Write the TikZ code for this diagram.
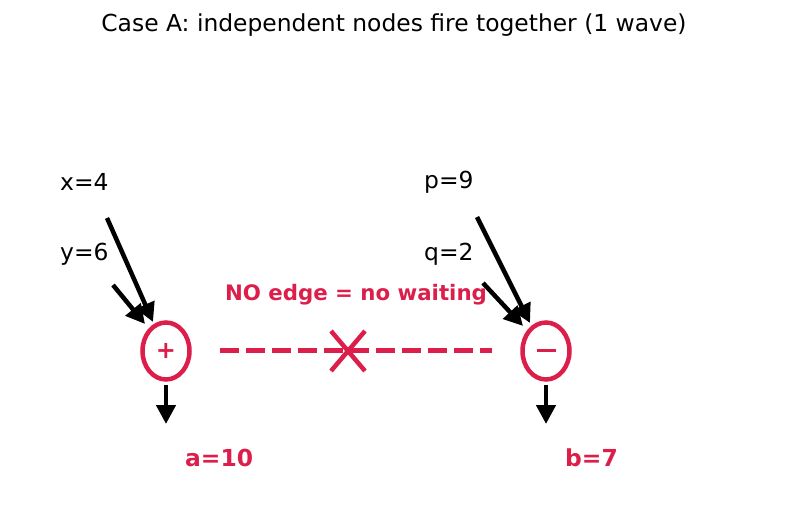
\documentclass[tikz,border=0pt]{standalone}
\usepackage{fontspec}
\setmainfont{DejaVu Sans}
\usetikzlibrary{arrows.meta, shapes.geometric}
\definecolor{crim}{RGB}{220,30,75}

\begin{document}
\begin{tikzpicture}[
    x=1pt, y=-1pt,
    opnode/.style={
        ellipse,
        draw=crim,
        line width=4.5pt,
        minimum width=47pt,
        minimum height=57pt,
        inner sep=0pt,
        text=crim,
        font=\fontsize{24}{28}\selectfont\bfseries
    },
    lbl/.style={
        anchor=west,
        inner sep=0pt,
        font=\fontsize{23.4}{28}\selectfont
    },
    reslbl/.style={
        lbl,
        text=crim,
        font=\fontsize{23.4}{28}\selectfont\bfseries
    },
    arr/.style={
        -{Triangle[length=19pt,width=19pt]},
        line width=4.5pt
    }
]
\useasboundingbox (0,0) rectangle (787,510);

\node[inner sep=0pt, font=\fontsize{23.4}{28}\selectfont] (title) at (394,25)
    {Case A: independent nodes fire together (1 wave)};

\node[opnode] (plus) at (166,351) {+};
\node[opnode] (minus) at (546,351) {\raisebox{1pt}{\rule{19pt}{2.6pt}}};

\node[lbl] (x) at (60,182) {x=4};
\node[lbl] (y) at (60,254) {y=6};
\node[lbl] (p) at (424,182) {p=9};
\node[lbl] (q) at (424,254) {q=2};

\coordinate (xs) at (107,218);
\coordinate (ys) at (113,285);
\coordinate (ps) at (477,217);
\coordinate (qs) at (483,283);

\draw[arr] (xs) -- (153,322);
\draw[arr] (ys) -- (145,324);
\draw[arr] (ps) -- (530,323);
\draw[arr] (qs) -- (523,326);

\coordinate (aend) at (166,424);
\coordinate (bend) at (546,424);
\draw[arr, shorten <=3pt] (plus) -- (aend);
\draw[arr, shorten <=3pt] (minus) -- (bend);

\node[reslbl] (a) at (185,458) {a=10};
\node[reslbl] (b) at (565,458) {b=7};

% missing edge between the two nodes
\coordinate (dl) at (220,351);
\coordinate (dr) at (492,351);
\draw[crim, line width=5pt, dash pattern=on 19pt off 7pt] (dl) -- (dr);
\node[inner sep=0pt, text=crim, font=\fontsize{21.3}{25}\selectfont\bfseries] (noedge)
    at (356,295) {NO edge = no waiting};
\coordinate (xc) at (348,351);
\draw[crim, line width=4.5pt] ([shift={(-17,-20)}]xc) -- ([shift={(17,20)}]xc)
    ([shift={(-17,20)}]xc) -- ([shift={(17,-20)}]xc);

\end{tikzpicture}
\end{document}
